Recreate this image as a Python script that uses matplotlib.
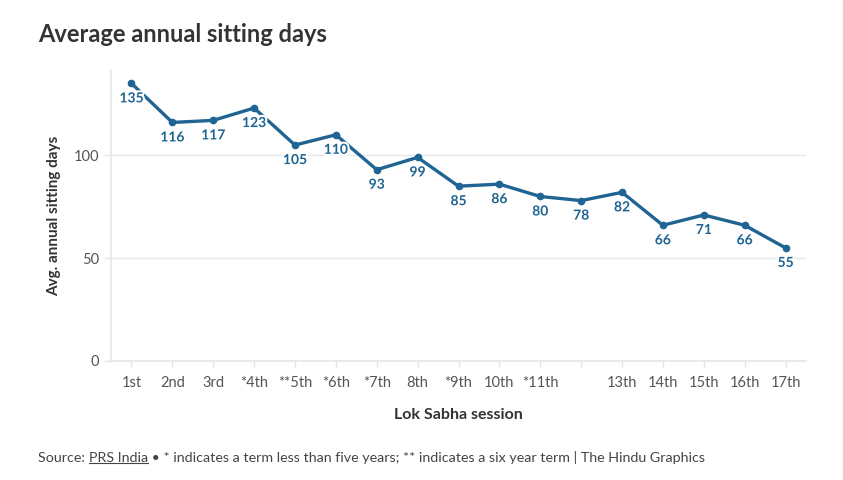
import matplotlib
matplotlib.use("Agg")
import matplotlib.pyplot as plt
import matplotlib.patheffects as pe

plt.rcParams['font.family'] = ['Lato', 'DejaVu Sans']

sessions = ['1st', '2nd', '3rd', '*4th', '**5th', '*6th', '*7th', '8th', '*9th',
            '10th', '*11th', '', '13th', '14th', '15th', '16th', '17th']
sitting_days = [135, 116, 117, 123, 105, 110, 93, 99, 85, 86, 80, 78, 82, 66, 71, 66, 55]

line_col = '#1f6492'
grid_col = '#e6e6e6'

fig = plt.figure(figsize=(8.43, 4.8), dpi=100)
ax = fig.add_axes([111 / 843, 1 - 361 / 480, (806 - 111) / 843, (361 - 70) / 480])

x = list(range(len(sitting_days)))
ax.plot(x, sitting_days, color=line_col, lw=2.4, marker='o', ms=4.5, zorder=3)
for xi, v in zip(x, sitting_days):
    ax.annotate(str(v), (xi, v), xytext=(0, -6.5), textcoords='offset points',
                ha='center', va='top', fontsize=10, fontweight='bold', color=line_col,
                zorder=4, path_effects=[pe.withStroke(linewidth=3, foreground='white')])

ax.set_xlim(-0.5, len(x) - 0.5)
ax.set_ylim(0, 141.5)
ax.set_yticks([0, 50, 100])
ax.set_xticks(x)
ax.set_xticklabels(sessions)
ax.grid(axis='y', color=grid_col, lw=1)
ax.set_axisbelow(True)
for s in ['top', 'right']:
    ax.spines[s].set_visible(False)
ax.spines['left'].set_color(grid_col)
ax.spines['bottom'].set_color(grid_col)
ax.spines['left'].set_linewidth(1.2)
ax.spines['bottom'].set_linewidth(1.2)
ax.tick_params(axis='both', colors=grid_col, labelcolor='#555555', labelsize=10.5, length=5, width=1)
ax.tick_params(axis='x', pad=6)

ax.set_xlabel('Lok Sabha session', fontsize=11.5, fontweight='bold', color='#333333', labelpad=13)
ax.set_ylabel('Avg. annual sitting days', fontsize=11, fontweight='bold', color='#333333', labelpad=9)

fig.text(38 / 843, 1 - 34 / 480, 'Average annual sitting days', fontsize=17, fontweight='bold',
         color='#333333', va='center', ha='left')

fs = 10.3
src = fig.text(38 / 843, 1 - 458 / 480, 'Source: ', fontsize=fs, color='#444444', va='center', ha='left')
fig.canvas.draw()
r = fig.canvas.get_renderer()
bb = src.get_window_extent(r)
link = fig.text(bb.x1 / 843, 1 - 458 / 480, 'PRS India', fontsize=fs, color='#444444', va='center',
                ha='left')
bb2 = link.get_window_extent(r)
fig.add_artist(plt.Line2D([bb2.x0 / 843, bb2.x1 / 843], [(bb2.y0 + 1) / 480] * 2, color='#444444', lw=0.8))
fig.text(bb2.x1 / 843, 1 - 458 / 480,
         ' \u2022 * indicates a term less than five years; ** indicates a six year term | The Hindu Graphics',
         fontsize=fs, color='#444444', va='center', ha='left')

fig.savefig('out.png', dpi=100)
